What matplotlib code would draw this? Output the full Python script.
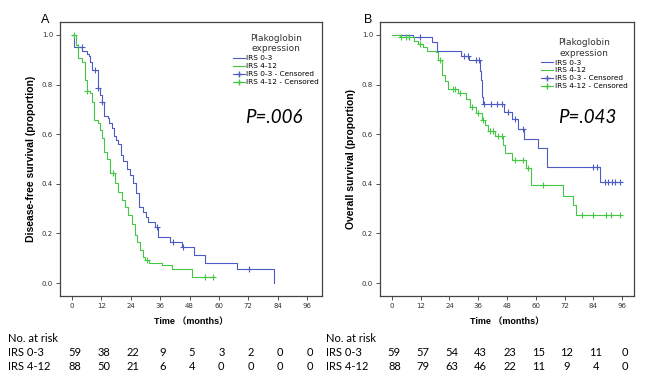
import matplotlib
matplotlib.use("Agg")
import matplotlib.pyplot as plt
import matplotlib.transforms as mtransforms
from matplotlib.lines import Line2D
import numpy as np

# --- panel A: disease-free survival (step times / survival after step) ---
a_low_t = [0, 1.0, 4.2, 6.2, 6.9, 7.4, 8.3, 10.5, 11.4, 12.1, 13.2, 14.5, 15.1, 16.2, 17.3, 17.8,
           18.9, 19.9, 21.0, 22.3, 23.7, 25.0, 26.1, 27.5, 28.9, 30.2, 31.2, 33.8, 35.3, 40.0, 44.8,
           50.0, 54.2, 67.3, 82.3]
a_low_s = [1.0, 0.95, 0.935, 0.925, 0.913, 0.892, 0.86, 0.785, 0.758, 0.731, 0.673, 0.665, 0.644,
           0.624, 0.593, 0.577, 0.56, 0.516, 0.49, 0.458, 0.435, 0.402, 0.362, 0.308, 0.288, 0.265,
           0.247, 0.227, 0.187, 0.167, 0.144, 0.114, 0.082, 0.055, 0.0]
a_low_end = 82.3
a_low_cens = [2.6, 4.0, 9.5, 10.7, 12.2, 34.6, 41.1, 45.3, 72.4]

a_high_t = [0, 1.5, 2.6, 4.2, 5.3, 6.0, 7.4, 8.0, 9.1, 10.7, 11.4, 12.1, 13.2, 14.2, 15.4, 17.6,
            18.9, 20.3, 21.7, 23.0, 24.4, 25.7, 26.7, 27.8, 28.9, 30.0, 31.6, 36.6, 40.7, 48.9]
a_high_s = [1.0, 0.96, 0.906, 0.89, 0.82, 0.772, 0.765, 0.73, 0.657, 0.645, 0.617, 0.585, 0.53,
            0.5, 0.444, 0.402, 0.368, 0.335, 0.308, 0.274, 0.24, 0.194, 0.167, 0.133, 0.106, 0.093,
            0.079, 0.073, 0.055, 0.025]
a_high_end = 58.0
a_high_cens = [0.8, 6.3, 16.9, 30.5, 54.3, 57.5]

# --- panel B: overall survival ---
b_low_t = [0, 8.9, 16.6, 18.6, 28.8, 32.1, 36.7, 37.1, 37.7, 38.1, 46.7, 50.0, 52.7, 55.2, 61.1,
           64.9, 86.9]
b_low_s = [1.0, 0.99, 0.97, 0.934, 0.917, 0.898, 0.853, 0.817, 0.75, 0.72, 0.69, 0.66, 0.62,
           0.582, 0.544, 0.466, 0.407]
b_low_end = 96.0
b_low_cens = [11.6, 30.2, 31.6, 34.9, 36.3, 38.4, 41.5, 43.7, 45.8, 48.5, 51.5, 54.6, 84.0, 85.4,
              88.9, 90.3, 91.7, 93.1, 95.2]

b_high_t = [0, 3.2, 9.3, 11.0, 13.1, 14.5, 18.2, 19.2, 20.7, 22.1, 23.2, 27.5, 31.0, 32.6, 35.0,
            37.4, 38.8, 40.2, 43.0, 46.5, 47.2, 50.0, 55.9, 57.9, 71.5, 75.7, 76.8]
b_high_s = [1.0, 0.99, 0.977, 0.964, 0.95, 0.937, 0.93, 0.9, 0.84, 0.813, 0.782, 0.766, 0.74,
            0.71, 0.686, 0.657, 0.637, 0.612, 0.593, 0.556, 0.523, 0.496, 0.462, 0.394, 0.351,
            0.314, 0.274]
b_high_end = 96.0
b_high_cens = [3.9, 5.7, 7.1, 11.6, 20.0, 25.6, 26.3, 28.3, 33.6, 36.1, 38.0, 40.9, 42.0, 44.4,
               45.8, 51.3, 54.8, 56.9, 62.9, 79.3, 83.7, 89.4, 91.4, 95.3]

# --- numbers at risk ---
risk_times = [0, 12, 24, 36, 48, 60, 72, 84, 96]
a_risk_low = [59, 38, 22, 9, 5, 3, 2, 0, 0]
a_risk_high = [88, 50, 21, 6, 4, 0, 0, 0, 0]
b_risk_low = [59, 57, 54, 43, 23, 15, 12, 11, 0]
b_risk_high = [88, 79, 63, 46, 22, 11, 9, 4, 0]

blue = "#4d5cc4"
green = "#44c844"

fig = plt.figure(figsize=(6.5, 3.81), dpi=100)
axA = fig.add_axes([60 / 650, 1 - 296 / 381, 262 / 650, 274 / 381])
axB = fig.add_axes([380 / 650, 1 - 296 / 381, 254 / 650, 274 / 381])


def km(ax, t, s, end, cens, color):
    tt = list(t) + ([end] if end > t[-1] else [])
    ss = list(s) + ([s[-1]] if end > t[-1] else [])
    ax.step(tt, ss, where="post", color=color, lw=0.8)
    cy = [s[np.searchsorted(t, c, side="right") - 1] for c in cens]
    ax.plot(cens, cy, ls="none", marker="+", color=color, ms=4.5, mew=0.8)


def style(ax, ylabel, ptext, xlim, leg_anchor):
    ax.set_xlim(*xlim)
    ax.set_ylim(-0.052, 1.052)
    ax.set_xticks(risk_times)
    ax.set_yticks([0, 0.2, 0.4, 0.6, 0.8, 1.0])
    ax.set_yticklabels(["0.0", "0.2", "0.4", "0.6", "0.8", "1.0"])
    ax.tick_params(direction="out", length=3, width=0.6, labelsize=5, colors="#333333",
                   pad=2)
    for sp in ax.spines.values():
        sp.set_color("#444444")
        sp.set_linewidth(0.9)
    ax.set_ylabel(ylabel, fontsize=7.5, fontweight="bold", family="Liberation Sans", labelpad=4)
    ax.set_xlabel("Time （months）", fontsize=6.5, fontweight="bold",
                  family=["Liberation Sans", "Noto Sans CJK SC"], labelpad=6)
    ax.text(0.815, 0.65, ptext, transform=ax.transAxes, fontsize=13.5, style="italic",
            family="Lato", ha="center", va="center")
    handles = [Line2D([], [], color=blue, lw=0.8),
               Line2D([], [], color=green, lw=0.8),
               Line2D([], [], color=blue, lw=0.8, marker="+", ms=4.5),
               Line2D([], [], color=green, lw=0.8, marker="+", ms=4.5)]
    labels = ["IRS 0-3", "IRS 4-12", "IRS 0-3 - Censored", "IRS 4-12 - Censored"]
    leg = ax.legend(handles, labels, title="Plakoglobin\nexpression", loc="upper left",
                    bbox_to_anchor=leg_anchor, frameon=False, fontsize=5.3,
                    title_fontsize=6.5, handlelength=1.6, handletextpad=0.2,
                    labelspacing=0.25, borderpad=0.2)
    plt.setp(leg.get_title(), multialignment="center", color="#333333")


km(axA, a_low_t, a_low_s, a_low_end, a_low_cens, blue)
km(axA, a_high_t, a_high_s, a_high_end, a_high_cens, green)
km(axB, b_low_t, b_low_s, b_low_end, b_low_cens, blue)
km(axB, b_high_t, b_high_s, b_high_end, b_high_cens, green)

style(axA, "Disease-free survival (proportion)", "P=.006", (-4.9, 102.1), (0.64, 0.975))
style(axB, "Overall survival (proportion)", "P=.043", (-5.0, 101.0), (0.615, 0.96))

fig.text(41 / 650, 1 - 20 / 381, "A", fontsize=9, family="Liberation Sans", va="center")
fig.text(364 / 650, 1 - 20 / 381, "B", fontsize=9, family="Liberation Sans", va="center")

# risk table
for ax, x0, low, high in [(axA, 8, a_risk_low, a_risk_high), (axB, 326, b_risk_low, b_risk_high)]:
    fig.text(x0 / 650, 1 - 338 / 381, "No. at risk", fontsize=8, family="Lato", va="center")
    fig.text(x0 / 650, 1 - 352 / 381, "IRS 0-3", fontsize=8, family="Lato", va="center")
    fig.text(x0 / 650, 1 - 367 / 381, "IRS 4-12", fontsize=8, family="Lato", va="center")
    tr = mtransforms.blended_transform_factory(ax.transData, fig.transFigure)
    for t, n1, n2 in zip(risk_times, low, high):
        fig.text(t + 1.0, 1 - 352 / 381, str(n1), transform=tr, fontsize=8, family="Lato",
                 ha="center", va="center")
        fig.text(t + 1.0, 1 - 367 / 381, str(n2), transform=tr, fontsize=8, family="Lato",
                 ha="center", va="center")

fig.savefig("out.png", dpi=100)
